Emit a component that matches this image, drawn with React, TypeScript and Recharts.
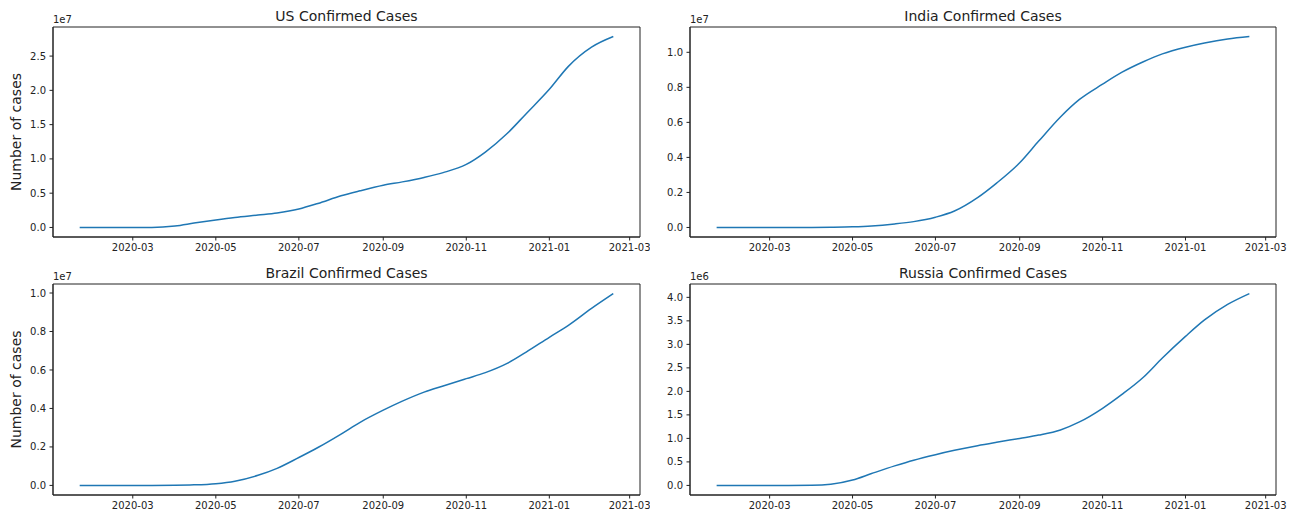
import React from 'react';
import { LineChart, Line, XAxis, YAxis, ReferenceArea } from 'recharts';

const dates = [
  '2020-01-22', '2020-02-01', '2020-02-15', '2020-03-01', '2020-03-15', '2020-04-01',
  '2020-04-15', '2020-05-01', '2020-05-15', '2020-06-01', '2020-06-15', '2020-07-01',
  '2020-07-15', '2020-08-01', '2020-08-15', '2020-09-01', '2020-09-15', '2020-10-01',
  '2020-10-15', '2020-11-01', '2020-11-15', '2020-12-01', '2020-12-15', '2021-01-01',
  '2021-01-15', '2021-02-01', '2021-02-17',
];

const usCases = [
  1, 8, 15, 75, 3600, 215000, 640000, 1100000, 1460000, 1810000, 2110000, 2690000,
  3500000, 4620000, 5350000, 6150000, 6650000, 7300000, 8000000, 9200000, 11000000,
  13700000, 16600000, 20150000, 23500000, 26300000, 27850000,
];

const indiaCases = [
  1, 1, 3, 3, 110, 1900, 12000, 35000, 82000, 198000, 333000, 585000, 936000,
  1700000, 2530000, 3690000, 4930000, 6310000, 7310000, 8180000, 8850000, 9460000,
  9910000, 10290000, 10530000, 10760000, 10900000,
];

const brazilCases = [
  0, 0, 0, 2, 200, 6800, 28000, 92000, 220000, 526000, 888000, 1450000, 1970000,
  2670000, 3280000, 3910000, 4380000, 4850000, 5170000, 5550000, 5860000, 6340000,
  6930000, 7700000, 8320000, 9200000, 9970000,
];

const russiaCases = [
  0, 0, 0, 0, 60, 2800, 24000, 114000, 252000, 415000, 537000, 654000, 746000,
  845000, 917000, 1000000, 1070000, 1180000, 1350000, 1640000, 1930000, 2300000,
  2710000, 3170000, 3520000, 3850000, 4080000,
];

const xTickDates = ['2020-03-01', '2020-05-01', '2020-07-01', '2020-09-01', '2020-11-01', '2021-01-01', '2021-03-01'];
const usYTicks = [0, 0.5, 1.0, 1.5, 2.0, 2.5];
const indiaYTicks = [0, 0.2, 0.4, 0.6, 0.8, 1.0];
const brazilYTicks = [0, 0.2, 0.4, 0.6, 0.8, 1.0];
const russiaYTicks = [0, 0.5, 1.0, 1.5, 2.0, 2.5, 3.0, 3.5, 4.0];

const FONT = 'DejaVu Sans';
const INK = '#222';
const LINE = '#1f77b4';

const toDay = (s: string) => {
  const [y, m, d] = s.split('-').map(Number);
  return Date.UTC(y, m - 1, d) / 86400000;
};

const fmtDate = (v: number) => {
  const dt = new Date(Math.round(v) * 86400000);
  const y = dt.getUTCFullYear();
  const m = String(dt.getUTCMonth() + 1).padStart(2, '0');
  return `${y}-${m}`;
};

type PanelProps = {
  title: string;
  values: number[];
  ticks: number[];
  exp: number;
  left: number;
  top: number;
  w: number;
  h: number;
  mt: number;
  mr: number;
  yw: number;
  xh: number;
  ylabel: boolean;
};

function Panel({ title, values, ticks, exp, left, top, w, h, mt, mr, yw, xh, ylabel }: PanelProps) {
  const data = dates.map((d, i) => ({ t: toDay(d), v: values[i] }));
  const t0 = data[0].t;
  const t1 = data[data.length - 1].t;
  const xd: [number, number] = [t0 - 0.05 * (t1 - t0), t1 + 0.05 * (t1 - t0)];
  const vmax = Math.max(...values);
  const vmin = Math.min(...values);
  const yd: [number, number] = [vmin - 0.05 * (vmax - vmin), vmax + 0.05 * (vmax - vmin)];
  const scale = Math.pow(10, exp);
  const yt = ticks.map((k) => k * scale);
  const xt = xTickDates.map(toDay);
  const tickStyle = { fill: INK, fontSize: 10, fontFamily: FONT };

  const pl = yw;
  const pr = w - mr;
  const pt = mt;
  const pb = h - xh;

  return (
    <div style={{ position: 'absolute', left, top, width: w, height: h }}>
      <LineChart width={w} height={h} data={data} margin={{ top: mt, right: mr, bottom: 0, left: 0 }}>
        <XAxis
          dataKey="t"
          type="number"
          domain={xd}
          ticks={xt}
          interval={0}
          allowDataOverflow
          tickFormatter={fmtDate}
          height={xh}
          tickSize={3.5}
          tickMargin={3.5}
          tick={tickStyle}
          stroke={INK}
        />
        <YAxis
          type="number"
          domain={yd}
          ticks={yt}
          interval={0}
          allowDataOverflow
          width={yw}
          tickSize={3.5}
          tickMargin={3.5}
          tickFormatter={(v: number) => (v / scale).toFixed(1)}
          tick={tickStyle}
          stroke={INK}
        />
        <ReferenceArea
          x1={xd[0]}
          x2={xd[1]}
          y1={yd[0]}
          y2={yd[1]}
          fill="none"
          fillOpacity={0}
          stroke={INK}
          strokeWidth={1}
          ifOverflow="visible"
        />
        <Line
          dataKey="v"
          type="monotone"
          stroke={LINE}
          strokeWidth={1.5}
          dot={false}
          isAnimationActive={false}
        />
      </LineChart>
      <svg
        width={w}
        height={h}
        style={{ position: 'absolute', left: 0, top: 0, pointerEvents: 'none', overflow: 'visible' }}
      >
        <text x={(pl + pr) / 2} y={pt - 6.5} textAnchor="middle" fontFamily={FONT} fontSize={14} fill={INK}>
          {title}
        </text>
        <text x={pl} y={pt - 4} textAnchor="start" fontFamily={FONT} fontSize={10} fill={INK}>
          {`1e${exp}`}
        </text>
        {ylabel && (
          <text
            x={16}
            y={(pt + pb) / 2}
            textAnchor="middle"
            dominantBaseline="central"
            transform={`rotate(-90, 16, ${(pt + pb) / 2})`}
            fontFamily={FONT}
            fontSize={14}
            fill={INK}
          >
            Number of cases
          </text>
        )}
      </svg>
    </div>
  );
}

export default function App() {
  return (
    <div style={{ position: 'absolute', left: 0, top: 0, width: 1296, height: 512, background: '#fff' }}>
      <Panel title="US Confirmed Cases" values={usCases} ticks={usYTicks} exp={7}
        left={0} top={0} w={650} h={256} mt={27} mr={10} yw={53} xh={19} ylabel />
      <Panel title="India Confirmed Cases" values={indiaCases} ticks={indiaYTicks} exp={7}
        left={640} top={0} w={650} h={256} mt={27} mr={14} yw={50} xh={19} ylabel={false} />
      <Panel title="Brazil Confirmed Cases" values={brazilCases} ticks={brazilYTicks} exp={7}
        left={0} top={256} w={650} h={256} mt={28} mr={10} yw={53} xh={17} ylabel />
      <Panel title="Russia Confirmed Cases" values={russiaCases} ticks={russiaYTicks} exp={6}
        left={640} top={256} w={650} h={256} mt={28} mr={14} yw={50} xh={17} ylabel={false} />
    </div>
  );
}
